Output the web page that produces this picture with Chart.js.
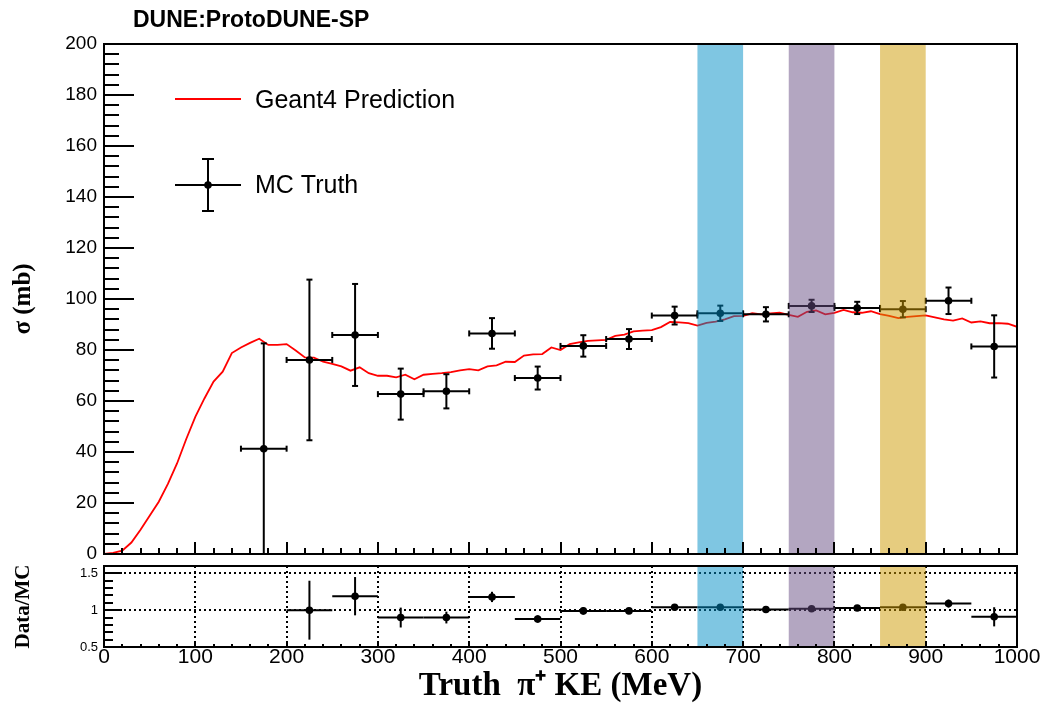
<!DOCTYPE html>
<html><head><meta charset="utf-8">
<script src="https://cdn.jsdelivr.net/npm/chart.js@4.4.1/dist/chart.umd.min.js"></script>
<style>
html,body{margin:0;padding:0;background:#fff;width:1040px;height:703px;overflow:hidden;}
#c1{position:absolute;left:0;top:0;}
#c2{position:absolute;left:0;top:560px;}
</style></head><body>
<canvas id="c1" width="1040" height="566"></canvas>
<canvas id="c2" width="1040" height="143"></canvas>
<script>
// ---------------- data ----------------
const geantKE = [0,10,20,30,40,50,60,70,80,90,100,110,120,130,140,150,160,170,180,190,
  200,210,220,230,240,250,260,270,280,290,300,310,320,330,340,350,360,370,380,390,
  400,410,420,430,440,450,460,470,480,490,500,510,520,530,540,550,560,570,580,590,
  600,610,620,630,640,650,660,670,680,690,700,710,720,730,740,750,760,770,780,790,
  800,810,820,830,840,850,860,870,880,890,900,910,920,930,940,950,960,970,980,990,1000];
const geantXS = [0,0.4,1.3,4.5,9.5,15,20.5,27.5,35.5,45,53.8,61,67.6,71.5,78.8,81,82.8,84.4,82,82,
  82.3,79.8,77.1,77,75.4,74.6,73.6,71.9,73.2,70.9,69.9,69.9,69.3,70.3,68.5,70.3,70.6,70.9,71.3,72,
  72.5,72,73.6,74,75.4,75.3,77.8,78.3,78.4,81,80,82.3,83,83.6,83.8,84,85.5,86,87.3,87.6,
  87.8,89,91,90.8,90.5,89.6,90.6,91.1,92,93.3,93.4,94.4,94,94.4,94.6,93.8,93,95,95.5,94,
  94.6,95.7,94.8,94.6,95.2,94.1,93.4,92.5,93,93.3,93.6,92.8,92,91.5,92.4,90.8,91.2,90.5,90.5,90.3,89.1];

const binCenters = [175,225,275,325,375,425,475,525,575,625,675,725,775,825,875,925,975];
const binHalfWidth = 25;
const xsValues = [41.3,76.1,85.9,62.7,63.8,86.5,69.0,81.6,84.3,93.5,94.4,94.0,97.3,96.5,96.0,99.3,81.4];
const xsErrors = [41.3,31.5,20.0,10.0,6.7,6.0,4.5,4.2,3.9,3.5,3.0,2.8,2.4,2.4,3.2,5.2,12.2];
const ratioValues = [null,1.00,1.19,0.90,0.90,1.18,0.88,0.99,0.99,1.04,1.04,1.01,1.02,1.03,1.04,1.09,0.91];
const ratioErrors = [null,0.40,0.26,0.135,0.08,0.07,0.05,0.05,0.04,0.04,0.035,0.03,0.025,0.025,0.035,0.055,0.13];

const bandLow = [650,750,850];
const bandHigh = [700,800,900];
const bandColors = ['rgba(0,141,197,0.5)','rgba(103,77,131,0.5)','rgba(205,153,0,0.5)'];

const ratioTicks = [0.5,1,1.5];
const ratioGridX = [100,200,300,400,500,600,700,800,900];
const ratioGridY = [1,1.5];

const titleText = 'DUNE:ProtoDUNE-SP';
const legendLabels = ['Geant4 Prediction','MC Truth'];

// ---------------- helpers ----------------
const SANS = '"Liberation Sans", Arial, Helvetica, sans-serif';
const SERIF = '"Liberation Serif", "Times New Roman", Times, serif';
Chart.defaults.color = '#000';
Chart.defaults.font.family = SANS;

function clipArea(ctx, a){ ctx.beginPath(); ctx.rect(a.left, a.top, a.right-a.left, a.bottom-a.top); ctx.clip(); }
function seg(ctx,x1,y1,x2,y2){ ctx.beginPath(); ctx.moveTo(x1,y1); ctx.lineTo(x2,y2); ctx.stroke(); }
function noPad(s){ s.paddingLeft=0; s.paddingRight=0; s.paddingTop=0; s.paddingBottom=0; }

function drawBands(chart){
  const {ctx, chartArea:a, scales:{x}} = chart;
  ctx.save(); clipArea(ctx,a);
  for (let k=0;k<bandLow.length;k++){
    const x1 = x.getPixelForValue(bandLow[k]), x2 = x.getPixelForValue(bandHigh[k]);
    ctx.fillStyle = bandColors[k];
    ctx.fillRect(x1, a.top, x2-x1, a.bottom-a.top);
  }
  ctx.restore();
}

function drawTicks(chart, yMin, yMax, yMinorStep, yMajorStep, yMajLen, yMinLen, xMajLen, xMinLen){
  const {ctx, chartArea:a, scales:{x,y}} = chart;
  ctx.save();
  ctx.strokeStyle='#000'; ctx.lineWidth=2;
  const nY = Math.round((yMax-yMin)/yMinorStep);
  const ratio = Math.round(yMajorStep/yMinorStep);
  for (let i=0;i<=nY;i++){
    const v = yMin + i*yMinorStep;
    const py = Math.round(y.getPixelForValue(v));
    const len = (i%ratio===0)? yMajLen : yMinLen;
    seg(ctx, a.left, py, a.left+len, py);
  }
  for (let i=0;i<=50;i++){
    const v = i*20;
    const px = Math.round(x.getPixelForValue(v));
    const len = (i%5===0)? xMajLen : xMinLen;
    seg(ctx, px, a.bottom, px, a.bottom-len);
  }
  ctx.lineWidth=2;
  ctx.strokeRect(a.left, a.top, a.right-a.left, a.bottom-a.top);
  ctx.restore();
}

// ---------------- top panel ----------------
const topDeco = {
  id:'topDeco',
  afterDatasetsDraw(chart){
    const {ctx, chartArea:a, scales:{x,y}} = chart;
    ctx.save(); clipArea(ctx,a);
    ctx.strokeStyle='#000'; ctx.lineWidth=2;
    for (let i=0;i<binCenters.length;i++){
      const v = xsValues[i], e = xsErrors[i];
      if (v==null) continue;
      const px = x.getPixelForValue(binCenters[i]), py = y.getPixelForValue(v);
      const xl = x.getPixelForValue(binCenters[i]-binHalfWidth), xr = x.getPixelForValue(binCenters[i]+binHalfWidth);
      const yt = y.getPixelForValue(v+e), yb = y.getPixelForValue(v-e);
      seg(ctx, xl, py, xr, py);
      seg(ctx, xl, py-3, xl, py+3);
      seg(ctx, xr, py-3, xr, py+3);
      seg(ctx, px, yt, px, yb);
      seg(ctx, px-3, yt, px+3, yt);
      seg(ctx, px-3, yb, px+3, yb);
    }
    ctx.restore();
    drawBands(chart);
    drawTicks(chart, 0, 200, 4, 20, 30, 15, 12, 6);

    // legend
    ctx.save();
    ctx.strokeStyle='rgb(255,0,0)'; ctx.lineWidth=2;
    seg(ctx,175,99,241,99);
    ctx.strokeStyle='#000'; ctx.lineWidth=2;
    seg(ctx,175,185,241,185);
    seg(ctx,208,159,208,211);
    seg(ctx,202,159,214,159);
    seg(ctx,202,211,214,211);
    ctx.fillStyle='#000';
    ctx.beginPath(); ctx.arc(208,185,3.8,0,Math.PI*2); ctx.fill();
    ctx.font = '25px '+SANS;
    ctx.textBaseline='middle'; ctx.textAlign='left';
    ctx.fillText(legendLabels[0],255,101);
    ctx.fillText(legendLabels[1],255,186);
    ctx.font = 'bold 23px '+SANS;
    ctx.textBaseline='alphabetic';
    ctx.fillText(titleText,133,27);
    ctx.restore();
  }
};

new Chart(document.getElementById('c1'), {
  type:'line',
  data:{
    datasets:[
      { label:legendLabels[0], data: geantKE.map((k,i)=>({x:k,y:geantXS[i]})),
        borderColor:'rgb(255,0,0)', borderWidth:1.8, pointRadius:0, tension:0, fill:false, order:2 },
      { label:legendLabels[1], data: binCenters.map((k,i)=>({x:k,y:xsValues[i]})),
        showLine:false, pointRadius:3.8, pointBackgroundColor:'#000', pointBorderWidth:0, borderColor:'#000', order:1 }
    ]
  },
  options:{
    responsive:false, animation:false, devicePixelRatio:1,
    layout:{ padding:{ left:0, top:44, right:23, bottom:12 } },
    plugins:{ legend:{display:false}, tooltip:{enabled:false}, title:{display:false} },
    scales:{
      x:{ type:'linear', min:0, max:1000, display:false },
      y:{ type:'linear', min:0, max:200,
          ticks:{ stepSize:20, font:{size:19, family:SANS}, padding:7, color:'#000', callback:v=>String(v) },
          grid:{ display:false, drawTicks:false },
          border:{ display:false },
          title:{ display:true, text:'σ (mb)', font:{size:25, weight:'bold', family:SERIF, lineHeight:1}, padding:{top:11,bottom:0}, color:'#000' },
          afterFit(s){ s.width = 104; noPad(s); } }
    }
  },
  plugins:[topDeco]
});

// ---------------- ratio panel ----------------
const botDeco = {
  id:'botDeco',
  beforeDatasetsDraw(chart){
    const {ctx, chartArea:a, scales:{x,y}} = chart;
    ctx.save();
    ctx.strokeStyle='#000'; ctx.lineWidth=2; ctx.setLineDash([2,3]);
    ratioGridX.forEach(v=>{ const px=Math.round(x.getPixelForValue(v)); seg(ctx,px,a.top,px,a.bottom); });
    ratioGridY.forEach(v=>{ const py=Math.round(y.getPixelForValue(v)); seg(ctx,a.left,py,a.right,py); });
    ctx.restore();
  },
  afterDatasetsDraw(chart){
    const {ctx, chartArea:a, scales:{x,y}} = chart;
    ctx.save(); clipArea(ctx,a);
    ctx.strokeStyle='#000'; ctx.lineWidth=2;
    for (let i=0;i<binCenters.length;i++){
      const v = ratioValues[i], e = ratioErrors[i];
      if (v==null) continue;
      const px = x.getPixelForValue(binCenters[i]), py = y.getPixelForValue(v);
      const xl = x.getPixelForValue(binCenters[i]-binHalfWidth), xr = x.getPixelForValue(binCenters[i]+binHalfWidth);
      seg(ctx, xl, py, xr, py);
      seg(ctx, px, y.getPixelForValue(v+e), px, y.getPixelForValue(v-e));
    }
    ctx.restore();
    drawBands(chart);
    drawTicks(chart, 0.5, 1.6, 0.1, 0.5, 18, 9, 6, 3);
  }
};

new Chart(document.getElementById('c2'), {
  type:'scatter',
  data:{
    datasets:[
      { label:'ratio', data: binCenters.map((k,i)=>({x:k,y:ratioValues[i]})),
        showLine:false, pointRadius:3.8, pointBackgroundColor:'#000', pointBorderWidth:0, borderColor:'#000' }
    ]
  },
  options:{
    responsive:false, animation:false, devicePixelRatio:1,
    layout:{ padding:{ left:0, top:6, right:23, bottom:0 } },
    plugins:{ legend:{display:false}, tooltip:{enabled:false}, title:{display:false} },
    scales:{
      x:{ type:'linear', min:0, max:1000,
          ticks:{ stepSize:100, font:{size:21, family:SANS, lineHeight:1}, padding:0, maxRotation:0, autoSkip:false, color:'#000', callback:v=>String(v) },
          grid:{ display:false, drawTicks:false },
          border:{ display:false },
          title:{ display:true, text:'Truth  π⁺ KE (MeV)', font:{size:33, weight:'bold', family:SERIF, lineHeight:1}, padding:{top:0,bottom:0}, color:'#000' },
          afterFit(s){ s.height = 56; noPad(s); } },
      y:{ type:'linear', min:0.5, max:1.6,
          afterBuildTicks(s){ s.ticks = ratioTicks.map(v=>({value:v})); },
          ticks:{ font:{size:13, family:SANS}, padding:6, color:'#000', callback:v=>String(v) },
          grid:{ display:false, drawTicks:false },
          border:{ display:false },
          title:{ display:true, text:'Data/MC', font:{size:21, weight:'bold', family:SERIF, lineHeight:1}, padding:{top:13,bottom:0}, color:'#000' },
          afterFit(s){ s.width = 104; noPad(s); } }
    }
  },
  plugins:[botDeco]
});
</script>
</body></html>
